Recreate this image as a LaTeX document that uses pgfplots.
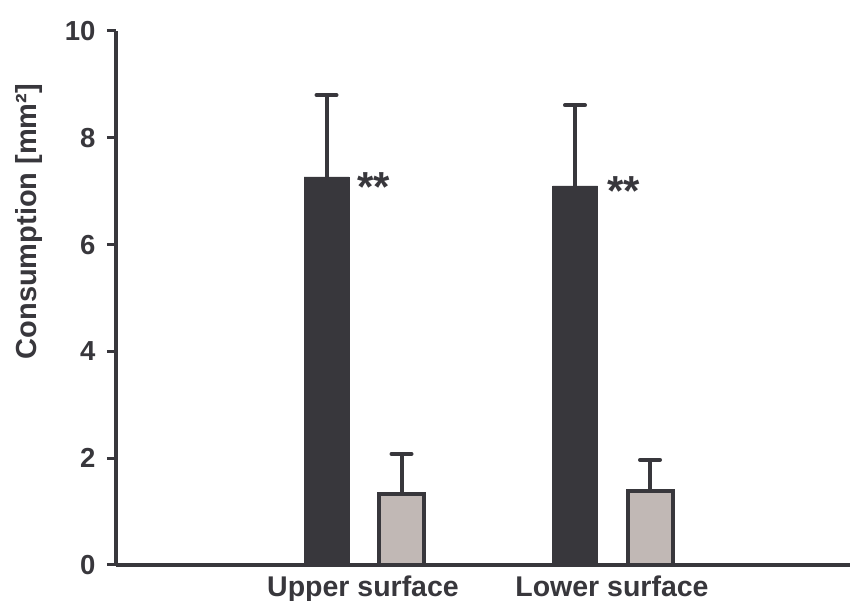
\documentclass[border=0pt]{standalone}
\usepackage{pgfplots}
\pgfplotsset{compat=1.18}
\usepackage{fontspec}
\setmainfont{Liberation Sans}
\definecolor{dk}{RGB}{56,55,60}
\definecolor{lt}{RGB}{193,184,181}
\begin{document}
\begin{tikzpicture}
\begin{axis}[
  scale only axis, width=734pt, height=534pt,
  xmin=116, xmax=850, ymin=0, ymax=10,
  axis x line=bottom, axis y line=left,
  axis line style={-, dk, line width=4pt},
  ytick={0,2,...,10},
  xtick={363,612}, xticklabels={Upper surface, Lower surface},
  tick align=outside, major tick length=9pt,
  y tick style={dk, line width=3pt},
  x tick style={draw=none},
  /pgf/number format/assume math mode=true,
  y tick label style={font=\fontsize{27.5}{27.5}\selectfont\bfseries, text=dk, xshift=-8pt},
  x tick label style={font=\fontsize{28.5}{28.5}\selectfont\bfseries, text=dk, yshift=2pt},
  ylabel={Consumption [mm²]},
  ylabel style={font=\fontsize{29}{29}\selectfont\bfseries, text=dk, at={(axis description cs:-0.1192,0.643)}, anchor=center},
  clip=false,
]
\coordinate (O) at (rel axis cs:0,0);
\coordinate (T) at (rel axis cs:1,1);
\addplot[ybar, bar width=45, bar shift=0pt, fill=dk, draw=dk, line width=0.5pt,
  error bars/.cd, y dir=plus, y explicit,
  error bar style={line width=4pt, dk},
  error mark options={rotate=90, mark size=10pt, line width=4pt, dk, line cap=round}]
  coordinates {(326.5,7.27) +- (0,1.53) (575,7.10) +- (0,1.51)};
\addplot[ybar, bar width=45, bar shift=0pt, fill=lt, draw=dk, line width=4pt,
  error bars/.cd, y dir=plus, y explicit,
  error bar style={line width=4pt, dk},
  error mark options={rotate=90, mark size=10pt, line width=4pt, dk, line cap=round}]
  coordinates {(401.5,1.33) +- (0,0.75) (650,1.39) +- (0,0.58)};
\node[anchor=base west, inner sep=0pt, font=\fontsize{42}{42}\selectfont\bfseries, text=dk] at (axis cs:357,6.80) {**};
\node[anchor=base west, inner sep=0pt, font=\fontsize{42}{42}\selectfont\bfseries, text=dk] at (axis cs:607,6.73) {**};
\end{axis}
\pgfresetboundingbox
\path ([xshift=-116pt,yshift=-36pt]O) rectangle ([yshift=31pt]T);
\end{tikzpicture}
\end{document}
